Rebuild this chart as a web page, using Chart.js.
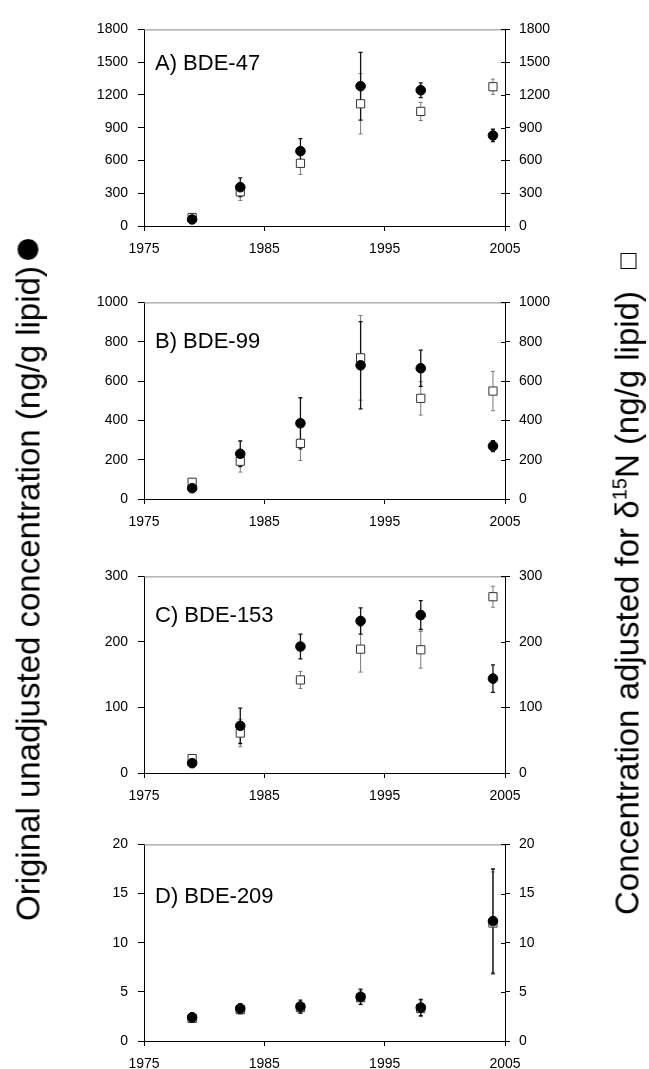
<!DOCTYPE html>
<html>
<head>
<meta charset="utf-8">
<script src="https://cdn.jsdelivr.net/npm/chart.js@4.4.0/dist/chart.umd.min.js"></script>
<style>
    body { margin: 0; background: #fff; width: 649px; height: 1069px; overflow: hidden; position: relative; font-family: "Liberation Sans", Arial, sans-serif; }
    canvas { position: absolute; left: 0; }
    .ytitle { position: absolute; white-space: nowrap; font-size: 33px; line-height: 1; color: #000; transform: translate(-50%, -50%) rotate(-90deg); }
    .dot { display: inline-block; width: 21px; height: 21px; border-radius: 50%; background: #000; margin-left: 6px; vertical-align: 1px; }
    .box { display: inline-block; width: 14px; height: 14px; border: 1.5px solid #000; margin-left: 22px; vertical-align: 2px; }
    sup { font-size: 20px; line-height: 0; }
</style>
</head>
<body>
<canvas id="chartA" width="649" height="250" style="top:11px"></canvas>
<canvas id="chartB" width="649" height="250" style="top:284px"></canvas>
<canvas id="chartC" width="649" height="250" style="top:558px"></canvas>
<canvas id="chartD" width="649" height="250" style="top:826px"></canvas>

<div class="ytitle" style="left:28px; top:580px">Original unadjusted concentration (ng/g lipid)<span class="dot"></span></div>
<div class="ytitle" style="left:627px; top:584px">Concentration adjusted for δ<sup>15</sup>N (ng/g lipid)<span class="box"></span></div>

<script>
// Años de muestreo
const years = [1979, 1983, 1988, 1993, 1998, 2004];

// A) BDE-47
const orig47 = [60, 355, 685, 1280, 1243, 829];
const origErr47 = [15, 85, 115, 310, 67, 57];
const adj47 = [78, 313, 574, 1119, 1049, 1275];
const adjErr47 = [15, 80, 102, 276, 83, 70];

// B) BDE-99
const orig99 = [55, 230, 385, 680, 665, 269];
const origErr99 = [10, 65, 130, 222, 92, 28];
const adj99 = [85, 192, 283, 718, 512, 549];
const adjErr99 = [18, 55, 87, 215, 85, 100];

// C) BDE-153
const orig153 = [15, 72, 193, 232, 241, 144];
const origErr153 = [3, 27, 19, 20, 22, 21];
const adj153 = [22, 61, 142, 189, 188, 269];
const adjErr153 = [5, 21, 13, 35, 28, 16];

// D) BDE-209
const orig209 = [2.4, 3.3, 3.5, 4.5, 3.4, 12.2];
const origErr209 = [0.45, 0.5, 0.65, 0.77, 0.83, 5.3];
const adj209 = [2.3, 3.2, 3.4, 4.4, 3.3, 12.0];
const adjErr209 = [0.4, 0.45, 0.6, 0.7, 0.8, 5.2];

// Ejes
const xTicks = [1975, 1985, 1995, 2005];
const yMax = [1800, 1000, 300, 20];
const yStep = [300, 200, 100, 5];
const panelNames = ['A) BDE-47', 'B) BDE-99', 'C) BDE-153', 'D) BDE-209'];

const labelOffset = [41, 46, 46, 59];
const font = { family: '"Liberation Sans", Arial, sans-serif', size: 14 };

function toPoints(vals, errs) {
    return years.map((y, i) => ({ x: y, y: vals[i], err: errs[i] }));
}

// Barras de error, borde superior y marcas del eje derecho
const extrasPlugin = {
    id: 'extras',
    beforeDatasetsDraw(chart, args, opts) {
        const ctx = chart.ctx;
        const xs = chart.scales.x, ys = chart.scales.y;
        const area = chart.chartArea;
        ctx.save();
        // borde superior gris
        ctx.strokeStyle = '#8a8a8a';
        ctx.lineWidth = 1;
        ctx.beginPath();
        ctx.moveTo(area.left, area.top + 0.5);
        ctx.lineTo(area.right, area.top + 0.5);
        ctx.stroke();
        // marcas hacia dentro en el eje derecho
        ctx.strokeStyle = '#000';
        chart.scales.y2.ticks.forEach(t => {
            const py = Math.round(ys.getPixelForValue(t.value)) + 0.5;
            ctx.beginPath();
            ctx.moveTo(area.right - 4, py);
            ctx.lineTo(area.right, py);
            ctx.stroke();
        });
        // barras: primero cuadrados (gris), luego circulos (negro)
        [1, 0].forEach(di => {
            const ds = chart.data.datasets[di];
            ctx.strokeStyle = di === 1 ? '#7a7a7a' : '#111';
            ctx.lineWidth = di === 1 ? 1 : 1.3;
            ds.data.forEach(p => {
                const px = xs.getPixelForValue(p.x);
                const top = ys.getPixelForValue(p.y + p.err);
                const bot = ys.getPixelForValue(p.y - p.err);
                ctx.beginPath();
                ctx.moveTo(px, top); ctx.lineTo(px, bot);
                ctx.moveTo(px - 2, top); ctx.lineTo(px + 2, top);
                ctx.moveTo(px - 2, bot); ctx.lineTo(px + 2, bot);
                ctx.stroke();
            });
        });
        ctx.restore();
    },
    afterDraw(chart, args, opts) {
        const ctx = chart.ctx;
        const area = chart.chartArea;
        ctx.save();
        ctx.fillStyle = '#000';
        ctx.font = '22px "Liberation Sans", Arial, sans-serif';
        ctx.textBaseline = 'alphabetic';
        ctx.fillText(opts.label, area.left + 11, area.top + opts.offset);
        ctx.restore();
    }
};

function makeChart(id, idx, orig, origErr, adj, adjErr) {
    const ctx = document.getElementById(id).getContext('2d');
    const yAxis = (pos, tickLen, pad) => ({
        type: 'linear',
        position: pos,
        min: 0,
        max: yMax[idx],
        afterFit: s => { s.width = 144; },
        afterBuildTicks: s => {
            s.ticks = [];
            for (let v = 0; v <= yMax[idx]; v += yStep[idx]) s.ticks.push({ value: v });
        },
        grid: { drawOnChartArea: false, tickLength: tickLen, color: '#000' },
        border: { color: '#000', width: 1 },
        ticks: { color: '#000', font: font, padding: pad, callback: v => String(v) }
    });
    return new Chart(ctx, {
        type: 'scatter',
        data: {
            datasets: [{
                label: 'Original',
                data: toPoints(orig, origErr),
                pointStyle: 'circle',
                pointRadius: 4.8,
                pointHoverRadius: 4.8,
                backgroundColor: '#000',
                borderColor: '#000',
                borderWidth: 1
            }, {
                label: 'Adjusted',
                data: toPoints(adj, adjErr),
                pointStyle: 'rect',
                pointRadius: 5.8,
                pointHoverRadius: 5.8,
                backgroundColor: '#fff',
                borderColor: '#333',
                borderWidth: 1
            }]
        },
        options: {
            responsive: false,
            animation: false,
            devicePixelRatio: 1,
            layout: { padding: { top: 8, left: 0, right: 0, bottom: 0 } },
            scales: {
                x: {
                    type: 'linear',
                    min: 1975,
                    max: 2005,
                    afterFit: s => { s.height = 35; },
                    afterBuildTicks: s => { s.ticks = xTicks.map(v => ({ value: v })); },
                    grid: { drawOnChartArea: false, tickLength: 5, color: '#000' },
                    border: { color: '#000', width: 1 },
                    ticks: { color: '#000', font: font, padding: 10, maxRotation: 0, callback: v => String(v) }
                },
                y: yAxis('left', 6, 10),
                y2: yAxis('right', 5, 9)
            },
            plugins: {
                legend: { display: false },
                tooltip: { enabled: false },
                extras: { label: panelNames[idx], offset: labelOffset[idx] }
            }
        },
        plugins: [extrasPlugin]
    });
}

makeChart('chartA', 0, orig47, origErr47, adj47, adjErr47);
makeChart('chartB', 1, orig99, origErr99, adj99, adjErr99);
makeChart('chartC', 2, orig153, origErr153, adj153, adjErr153);
makeChart('chartD', 3, orig209, origErr209, adj209, adjErr209);
</script>
</body>
</html>
